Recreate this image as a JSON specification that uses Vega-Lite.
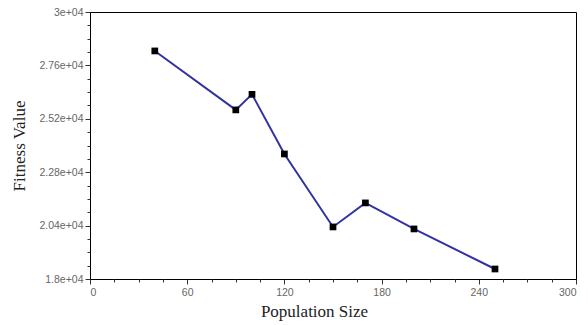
{
  "$schema": "https://vega.github.io/schema/vega-lite/v6.json",
  "autosize": "none",
  "width": 486,
  "height": 267,
  "padding": {"left": 90, "top": 12, "right": 12, "bottom": 46},
  "background": "white",
  "config": {"view": {"stroke": "black", "strokeWidth": 1}},
  "data": {"values": [
    {"pop": 40, "fit": 28250},
    {"pop": 90, "fit": 25600},
    {"pop": 100, "fit": 26300},
    {"pop": 120, "fit": 23620},
    {"pop": 150, "fit": 20340},
    {"pop": 170, "fit": 21420},
    {"pop": 200, "fit": 20250},
    {"pop": 250, "fit": 18450}
  ]},
  "resolve": {"axis": {"x": "independent", "y": "independent"}},
  "layer": [
    {
      "mark": {"type": "line", "color": "#3232a0", "strokeWidth": 2},
      "encoding": {
        "x": {"field": "pop", "type": "quantitative",
          "scale": {"domain": [0, 300], "nice": false, "zero": false},
          "axis": {"orient": "bottom", "values": [0, 60, 120, 180, 240, 300], "grid": false,
            "title": "Population Size", "titleFont": "Liberation Serif", "titleFontSize": 17,
            "titleFontWeight": "normal", "titleColor": "#222", "titlePadding": 6,
            "titleX": 224, "titleAnchor": "middle",
            "labelFont": "Liberation Sans", "labelFontSize": 10.5, "labelColor": "#666",
            "domainColor": "black", "tickColor": "#333", "tickSize": 5, "labelPadding": 3}},
        "y": {"field": "fit", "type": "quantitative",
          "scale": {"domain": [18000, 30000], "nice": false, "zero": false},
          "axis": {"orient": "left", "values": [18000, 20400, 22800, 25200, 27600, 30000], "grid": false,
            "labelExpr": "replace(format(datum.value, '.3~e'), 'e+', 'e+0')",
            "title": "Fitness Value", "titleFont": "Liberation Serif", "titleFontSize": 17,
            "titleFontWeight": "normal", "titleColor": "#222", "titlePadding": 10,
            "labelFont": "Liberation Sans", "labelFontSize": 10.5, "labelColor": "#666",
            "domainColor": "black", "tickColor": "#333", "tickSize": 5, "labelPadding": 2}}
      }
    },
    {
      "mark": {"type": "square", "color": "black", "opacity": 1, "filled": true, "size": 45},
      "encoding": {
        "x": {"field": "pop", "type": "quantitative",
          "axis": {"orient": "bottom", "values": [15, 30, 45, 75, 90, 105, 135, 150, 165, 195, 210, 225, 255, 270, 285],
            "grid": false, "labels": false, "title": null, "domain": false, "tickColor": "#333", "tickSize": 3}},
        "y": {"field": "fit", "type": "quantitative",
          "axis": {"orient": "left", "values": [18600, 19200, 19800, 21000, 21600, 22200, 23400, 24000, 24600, 25800, 26400, 27000, 28200, 28800, 29400],
            "grid": false, "labels": false, "title": null, "domain": false, "tickColor": "#333", "tickSize": 3}}
      }
    }
  ]
}
